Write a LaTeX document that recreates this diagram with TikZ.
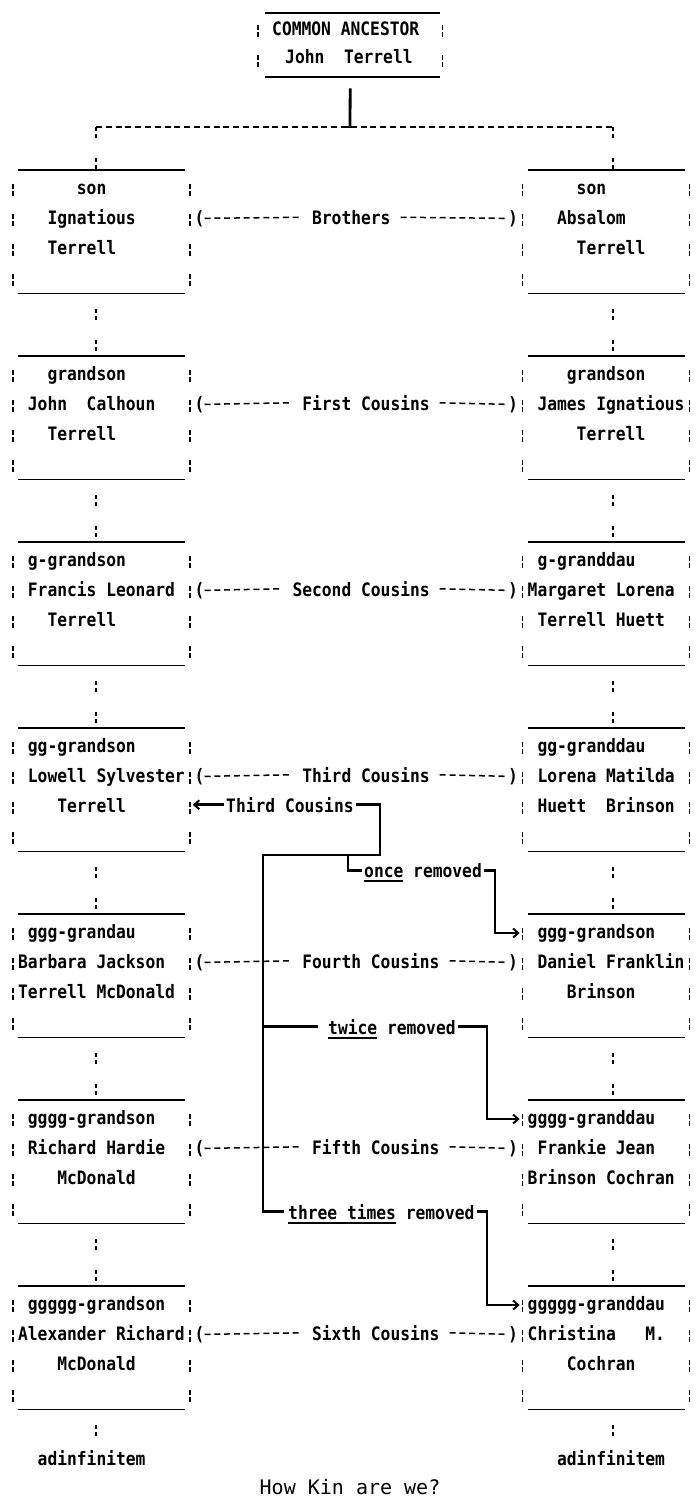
\documentclass[tikz,border=0pt]{standalone}
\usepackage{fontspec}
\newfontfamily\dotf{DejaVu Sans Mono Bold}[FakeStretch=0.88]
\newfontfamily\scrf{DejaVu Sans Mono}
\usetikzlibrary{arrows.meta}
\tikzset{
  txt/.style={font=\dotf\fontsize{18.5}{20}\selectfont, inner sep=0pt, anchor=mid west},
  boxnode/.style={inner sep=0pt, minimum height=123pt},
  hline/.style={line width=1.8pt},
  side/.style={line width=1.6pt, dash pattern=on 5pt off 2pt on 5pt off 18pt},
  link/.style={line width=1.6pt, dash pattern=on 4pt off 3pt on 4pt off 20pt, shorten <=16pt},
  rel/.style={line width=1.5pt, dash pattern=on 6pt off 3.8pt},
  kin/.style={line width=2.8pt},
  kinarrow/.style={kin, -{Straight Barb[length=5pt,width=9pt,line width=2pt]}, shorten >=3pt},
  uline/.style={line width=2pt}
}
\newcommand\kinbox[4]{%
  \node[boxnode, minimum width={#3-(#2)}, anchor=north west] (#1) at (#2,#4) {};
  \draw[hline] ([xshift=5pt]#1.north west) -- ([xshift=-5pt]#1.north east);
  \draw[hline] ([xshift=5pt]#1.south west) -- ([xshift=-5pt]#1.south east);
  \draw[side] ([yshift=-14pt]#1.north west) -- ([yshift=1pt]#1.south west);
  \draw[side] ([yshift=-14pt]#1.north east) -- ([yshift=1pt]#1.south east);
}
\newcommand\kinlines[8]{%
  \node[txt] (#1a) at ({9.8*#3+8.1},{#2+22}) {#4};
  \node[txt] (#1b) at ({9.8*#5+8.1},{#2+52}) {#6};
  \node[txt] (#1c) at ({9.8*#7+8.1},{#2+82}) {#8};
}
\newcommand\kinrel[4]{%
  \node[txt] (lp#1) at ({9.8*19+8.1},{#2+52}) {(};
  \node[txt] (rp#1) at ({9.8*51+8.1},{#2+52}) {)};
  \node[txt] (rl#1) at ({9.8*#3+8.1},{#2+52}) {#4};
  \draw[rel] (lp#1.east) -- ([xshift=-9.8pt]rl#1.west);
  \draw[rel] ([xshift=9.8pt]rl#1.east) -- (rp#1.west);
}
\begin{document}
\begin{tikzpicture}[x=1pt,y=-1pt]
\fill[white] (0,0) rectangle (696,1498);
\useasboundingbox (0,0) rectangle (696,1498);

% common ancestor
\node[inner sep=0pt, minimum width=184pt, minimum height=64pt, anchor=north west] (TOP) at (258,13) {};
\draw[hline] ([xshift=7pt]TOP.north west) -- ([xshift=-2pt]TOP.north east);
\draw[hline] ([xshift=7pt]TOP.south west) -- ([xshift=-2pt]TOP.south east);
\draw[side] ([yshift=-12pt]TOP.north west) -- ([yshift=-1pt]TOP.south west);
\draw[side] ([yshift=-12pt]TOP.north east) -- ([yshift=-1pt]TOP.south east);
\node[txt] (ca) at (272,33) {COMMON ANCESTOR};
\node[txt] (jt) at (285,61) {John~~Terrell};

\coordinate (hub) at (350,127);
\coordinate (hl) at (96,127);
\coordinate (hr) at (613,127);
\coordinate (lx) at (96,0);
\coordinate (rx) at (613,0);
\draw[kin] ([yshift=-11pt]TOP.south) -- (hub);
\draw[kin] ([xshift=-6pt]hub) -- ([xshift=6pt]hub);
\draw[rel] (hl) -- (hr);

% boxes
\kinbox{L0}{13}{189.4}{170}
\kinbox{R0}{522.6}{689.2}{170}
\kinbox{L1}{13}{189.4}{356}
\kinbox{R1}{522.6}{689.2}{356}
\kinbox{L2}{13}{189.4}{542}
\kinbox{R2}{522.6}{689.2}{542}
\kinbox{L3}{13}{189.4}{728}
\kinbox{R3}{522.6}{689.2}{728}
\kinbox{L4}{13}{189.4}{914}
\kinbox{R4}{522.6}{689.2}{914}
\kinbox{L5}{13}{189.4}{1100}
\kinbox{R5}{522.6}{689.2}{1100}
\kinbox{L6}{13}{189.4}{1286}
\kinbox{R6}{522.6}{689.2}{1286}

\kinlines{L0}{170}{7}{son}{4}{Ignatious}{4}{Terrell}
\kinlines{R0}{170}{58}{son}{56}{Absalom}{58}{Terrell}
\kinlines{L1}{356}{4}{grandson}{2}{John~~Calhoun}{4}{Terrell}
\kinlines{R1}{356}{57}{grandson}{54}{James Ignatious}{58}{Terrell}
\kinlines{L2}{542}{2}{g-grandson}{2}{Francis Leonard}{4}{Terrell}
\kinlines{R2}{542}{54}{g-granddau}{53}{Margaret Lorena}{54}{Terrell Huett}
\kinlines{L3}{728}{2}{gg-grandson}{2}{Lowell Sylvester}{5}{Terrell}
\kinlines{R3}{728}{54}{gg-granddau}{54}{Lorena Matilda}{54}{Huett~~Brinson}
\kinlines{L4}{914}{2}{ggg-grandau}{1}{Barbara Jackson}{1}{Terrell McDonald}
\kinlines{R4}{914}{54}{ggg-grandson}{54}{Daniel Franklin}{57}{Brinson}
\kinlines{L5}{1100}{2}{gggg-grandson}{2}{Richard Hardie}{5}{McDonald}
\kinlines{R5}{1100}{53}{gggg-granddau}{54}{Frankie Jean}{53}{Brinson Cochran}
\kinlines{L6}{1286}{2}{ggggg-grandson}{1}{Alexander Richard}{5}{McDonald}
\kinlines{R6}{1286}{53}{ggggg-granddau}{53}{Christina~~~M.}{57}{Cochran}

% relations
\kinrel{0}{170}{31}{Brothers}
\kinrel{1}{356}{30}{First Cousins}
\kinrel{2}{542}{29}{Second Cousins}
\kinrel{3}{728}{30}{Third Cousins}
\kinrel{4}{914}{30}{Fourth Cousins}
\kinrel{5}{1100}{31}{Fifth Cousins}
\kinrel{6}{1286}{31}{Sixth Cousins}

% descent links
\draw[link, shorten <=0pt] (hl) -- (L0.north -| hl);
\draw[link, shorten <=0pt] (hr) -- (R0.north -| hr);
\draw[link] (L0.south -| lx) -- (L1.north -| lx);
\draw[link] (L1.south -| lx) -- (L2.north -| lx);
\draw[link] (L2.south -| lx) -- (L3.north -| lx);
\draw[link] (L3.south -| lx) -- (L4.north -| lx);
\draw[link] (L4.south -| lx) -- (L5.north -| lx);
\draw[link] (L5.south -| lx) -- (L6.north -| lx);
\draw[link] (R0.south -| rx) -- (R1.north -| rx);
\draw[link] (R1.south -| rx) -- (R2.north -| rx);
\draw[link] (R2.south -| rx) -- (R3.north -| rx);
\draw[link] (R3.south -| rx) -- (R4.north -| rx);
\draw[link] (R4.south -| rx) -- (R5.north -| rx);
\draw[link] (R5.south -| rx) -- (R6.north -| rx);

\node[txt] (Lend) at ({9.8*3+8.1},1463) {adinfinitem};
\node[txt] (Rend) at ({9.8*56+8.1},1463) {adinfinitem};
\draw[link] (L6.south -| lx) -- (lx |- Lend.north);
\draw[link] (R6.south -| rx) -- (rx |- Rend.north);

% removed connectors
\node[txt] (tc) at (226,810) {Third Cousins};
\node[txt] (onc) at (364,875) {once removed};
\node[txt] (twi) at (328,1032) {twice removed};
\node[txt] (thr) at (288,1217) {three times removed};
\draw[uline] ([yshift=-11pt]onc.west) -- ++(39.2,0);
\draw[uline] ([yshift=-11pt]twi.west) -- ++(49,0);
\draw[uline] ([yshift=-11pt]thr.west) -- ++(107.8,0);

\coordinate (ja) at (380,855);
\coordinate (jb) at (263,855);
\coordinate (jo) at (348,855);
\coordinate (ro) at (495,0);
\coordinate (rt) at (487,0);

\draw[kinarrow] ([xshift=-2pt]tc.west) -- (L3.east |- tc.west);
\draw[kin] ([xshift=2pt]tc.east) -| (ja) -- (jb) -- (jb |- thr.west) -- ([xshift=-4pt]thr.west);
\draw[kin] (jo) |- ([xshift=-2pt]onc.west);
\draw[kin] (jb |- twi.west) -- ([xshift=-10pt]twi.west);
\draw[kinarrow] ([xshift=2pt]onc.east) -| (ro |- R4a.west) -- (R4.west |- R4a.west);
\draw[kinarrow] ([xshift=2pt]twi.east) -| (rt |- R5a.west) -- (R5.west |- R5a.west);
\draw[kinarrow] ([xshift=2pt]thr.east) -| (rt |- R6a.west) -- (R6.west |- R6a.west);

\node[font=\scrf\fontsize{20}{24}\selectfont, inner sep=0pt] (title) at (350,1487) {How Kin are we?};
\end{tikzpicture}
\end{document}
